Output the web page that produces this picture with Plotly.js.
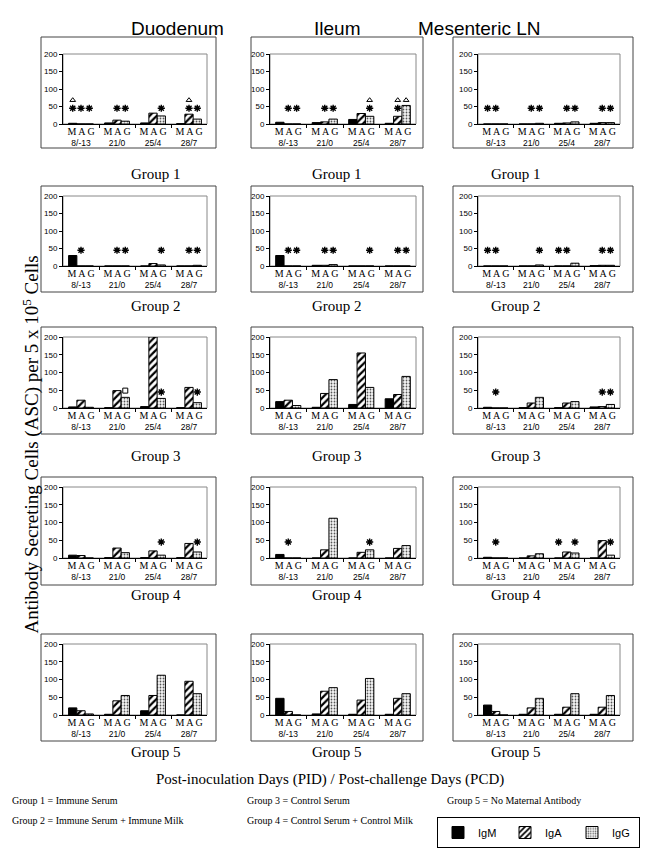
<!DOCTYPE html>
<html><head><meta charset="utf-8">
<script src="https://cdn.plot.ly/plotly-3.0.1.min.js"></script>
<style>html,body{margin:0;padding:0;background:#fff;overflow:hidden}#chart{width:646px;height:848px}</style>
</head><body><div id="chart"></div>
<script>
const tissues = ["Duodenum", "Ileum", "Mesenteric LN"];
const groups = ["Group 1", "Group 2", "Group 3", "Group 4", "Group 5"];
const days = ["8/-13", "21/0", "25/4", "28/7"];
const isotypes = ["IgM", "IgA", "IgG"];
const yTicks = [0, 50, 100, 150, 200];

// ASC values, [group][day]
const duodenumIgM = [[2,3,3,1],[30,0,0,0],[3,1,4,1],[8,1,1,1],[20,2,12,0]];
const duodenumIgA = [[0,11,31,28],[0,0,7,0],[22,49,200,58],[7,28,20,41],[12,40,55,95]];
const duodenumIgG = [[0,8,23,14],[0,0,3,2],[2,30,27,15],[0,15,8,17],[3,55,112,60]];
const ileumIgM = [[5,4,13,2],[30,2,0,0],[18,2,10,26],[10,0,0,0],[47,3,2,2]];
const ileumIgA = [[0,6,30,22],[0,2,0,0],[22,41,155,38],[0,23,16,27],[10,67,42,47]];
const ileumIgG = [[0,14,22,53],[0,4,0,0],[7,80,58,89],[0,112,23,35],[0,77,103,60]];
const mlnIgM = [[0,0,2,2],[0,0,0,1],[2,1,1,3],[2,0,0,0],[28,2,2,2]];
const mlnIgA = [[0,0,3,4],[0,0,0,2],[0,14,14,4],[0,6,17,49],[10,20,22,22]];
const mlnIgG = [[0,2,6,4],[0,3,8,2],[0,30,18,10],[0,12,14,8],[0,47,60,55]];

// significance marks: isotype letters (M/A/G) per [group][day]
const duodenumStars = [["MAG","AG","G","AG"],["A","AG","G","AG"],["","","G","G"],["","","G","G"],["","","",""]];
const duodenumTriangles = [["M","","","A"],["","","",""],["","","",""],["","","",""],["","","",""]];
const duodenumSquares = [["","","",""],["","","",""],["","G","",""],["","","",""],["","","",""]];
const ileumStars = [["AG","AG","G","A"],["AG","AG","G","AG"],["","","",""],["A","","G",""],["","","",""]];
const ileumTriangles = [["","","G","AG"],["","","",""],["","","",""],["","","",""],["","","",""]];
const ileumSquares = [["","","",""],["","","",""],["","","",""],["","","",""],["","","",""]];
const mlnStars = [["MA","AG","AG","AG"],["MA","G","MA","AG"],["A","","","AG"],["A","","MG","G"],["","","",""]];
const mlnTriangles = [["","","",""],["","","",""],["","","",""],["","","",""],["","","",""]];
const mlnSquares = [["","","",""],["","","",""],["","","",""],["","","",""],["","","",""]];

const groupDefs = ["Group 1 = Immune Serum", "Group 2 = Immune Serum + Immune Milk",
  "Group 3 = Control Serum", "Group 4 = Control Serum + Control Milk", "Group 5 = No Maternal Antibody"];

const W = 646, H = 848;
const tissueData = [
  {M: duodenumIgM, A: duodenumIgA, G: duodenumIgG, S: duodenumStars, T: duodenumTriangles, Q: duodenumSquares},
  {M: ileumIgM, A: ileumIgA, G: ileumIgG, S: ileumStars, T: ileumTriangles, Q: ileumSquares},
  {M: mlnIgM, A: mlnIgA, G: mlnIgG, S: mlnStars, T: mlnTriangles, Q: mlnSquares}
];

// layout geometry (px)
const colX = [[63,207],[270,416],[478,620]];
const rowY = [[54,124],[196,266],[337,408],[487,558],[644,715]];
const colBox = [[41,216],[251,423],[453,633]];
const rowBox = [[37,148],[186,292],[327,434],[477,585],[634,741]];
const groupLabelY = [164,306,456,605,762];

const offsets = {M: -0.23, A: 0, G: 0.23};
const barW = 0.23;
const isoStyle = {
  M: {color: '#000', line: {color: '#000', width: 1}},
  A: {color: '#fff', line: {color: '#000', width: 1}, pattern: {shape: '/', size: 5, solidity: 0.45, fgcolor: '#000', bgcolor: '#fff', fillmode: 'replace'}},
  G: {color: '#eee', line: {color: '#000', width: 1}, pattern: {shape: '.', size: 3, solidity: 0.28, fgcolor: '#555', bgcolor: '#f6f6f6', fillmode: 'replace'}}
};
const isoKeys = ['M','A','G'];

const ticktext = days.map(d => '<span style="font-family:Liberation Serif;font-size:10px">M A G</span><br>' + d);

const traces = [];
const layout = {
  width: W, height: H, margin: {l:0, r:0, t:0, b:0},
  paper_bgcolor: '#fff', plot_bgcolor: '#fff',
  showlegend: true, barmode: 'overlay',
  font: {family: 'Liberation Sans, Arial', color: '#000'},
  legend: {orientation: 'h', x: 640/W, y: 1 - 817/H, xanchor: 'right', yanchor: 'top',
    bordercolor: '#000', borderwidth: 1, font: {family: 'Liberation Sans, Arial', size: 11},
    itemwidth: 30, traceorder: 'normal', bgcolor: '#fff', entrywidth: 22, tracegroupgap: 0},
  shapes: [], annotations: []
};

for (let r = 0; r < 5; r++) {
  for (let c = 0; c < 3; c++) {
    const n = r*3 + c + 1;
    const xa = 'x' + n, ya = 'y' + n;
    const td = tissueData[c];
    isoKeys.forEach((k, ki) => {
      traces.push({
        type: 'bar', xaxis: xa, yaxis: ya,
        x: days.map((d, i) => i + offsets[k]),
        y: td[k][r], width: barW,
        marker: isoStyle[k], name: isotypes[ki],
        showlegend: n === 1, hoverinfo: 'skip', cliponaxis: true
      });
    });
    const markSets = [
      {src: td.S, y: 45, sym: 'asterisk-open', size: 6, lw: 1.4},
      {src: td.T, y: 68, sym: 'triangle-up-open', size: 5, lw: 1},
      {src: td.Q, y: 49, sym: 'square-open', size: 5, lw: 1}
    ];
    markSets.forEach(ms => {
      const xs = [], ys = [];
      ms.src[r].forEach((s, i) => {
        for (const ch of s) { xs.push(i + offsets[ch]); ys.push(ms.y); }
      });
      if (xs.length) traces.push({type: 'scatter', mode: 'markers', xaxis: xa, yaxis: ya, x: xs, y: ys,
        marker: {symbol: ms.sym, size: ms.size, color: '#000', line: {color: '#000', width: ms.lw}},
        showlegend: false, hoverinfo: 'skip', cliponaxis: false});
    });
    layout['xaxis' + n] = {
      domain: [colX[c][0]/W, colX[c][1]/W], anchor: ya, range: [-0.5, 3.5],
      tickmode: 'array', tickvals: [0,1,2,3], ticktext: ticktext, ticks: '', tickangle: 0,
      tickfont: {size: 8.5, family: 'Liberation Sans, Arial'},
      showline: true, linecolor: '#000', linewidth: 1, showgrid: false, zeroline: false, fixedrange: true,
      minor: {tickmode: 'array', tickvals: [0.5,1.5,2.5], ticks: 'outside', ticklen: 3, tickcolor: '#000', showgrid: false}
    };
    layout['yaxis' + n] = {
      domain: [1 - rowY[r][1]/H, 1 - rowY[r][0]/H], anchor: xa, range: [0, 200],
      tickmode: 'array', tickvals: yTicks, ticks: 'outside', ticklen: 3, tickcolor: '#000',
      tickfont: {size: 8, family: 'Liberation Sans, Arial'},
      showline: true, linecolor: '#000', linewidth: 1, showgrid: false, zeroline: false, fixedrange: true
    };
    layout.shapes.push({type: 'rect', xref: xa + ' domain', yref: ya + ' domain', x0: 0, x1: 1, y0: 0, y1: 1,
      line: {color: '#888', width: 1}, layer: 'below'});
    layout.shapes.push({type: 'rect', xref: 'paper', yref: 'paper',
      x0: colBox[c][0]/W, x1: colBox[c][1]/W, y0: 1 - rowBox[r][1]/H, y1: 1 - rowBox[r][0]/H,
      line: {color: '#444', width: 1}});
    layout.annotations.push({text: groups[r], xref: 'paper', yref: 'paper',
      x: (colBox[c][0] + colBox[c][1])/2/W, y: 1 - groupLabelY[r]/H, showarrow: false,
      font: {family: 'Liberation Serif, Times New Roman', size: 15}});
  }
}

tissues.forEach((t, c) => layout.annotations.push({text: t, xref: 'paper', yref: 'paper',
  x: (colBox[c][0] + colBox[c][1])/2/W, y: 1 - 16/H, showarrow: false,
  font: {family: 'Liberation Sans, Arial', size: 19}}));

layout.annotations.push({text: 'Antibody Secreting Cells (ASC) per 5 x 10<sup>5</sup> Cells', textangle: -90,
  xref: 'paper', yref: 'paper', x: 16/W, y: 1 - 445/H, showarrow: false,
  font: {family: 'Liberation Serif, Times New Roman', size: 19}});
layout.annotations.push({text: 'Post-inoculation Days (PID) / Post-challenge Days (PCD)',
  xref: 'paper', yref: 'paper', x: 330/W, y: 1 - 790/H, showarrow: false,
  font: {family: 'Liberation Serif, Times New Roman', size: 15}});

const defPos = [[10,808],[10,828],[245,808],[245,828],[445,808]];
groupDefs.forEach((g, i) => layout.annotations.push({text: g, xref: 'paper', yref: 'paper',
  x: defPos[i][0]/W, y: 1 - defPos[i][1]/H, xanchor: 'left', showarrow: false,
  font: {family: 'Liberation Serif, Times New Roman', size: 10}}));

Plotly.newPlot('chart', traces, layout, {staticPlot: true});
</script></body></html>
